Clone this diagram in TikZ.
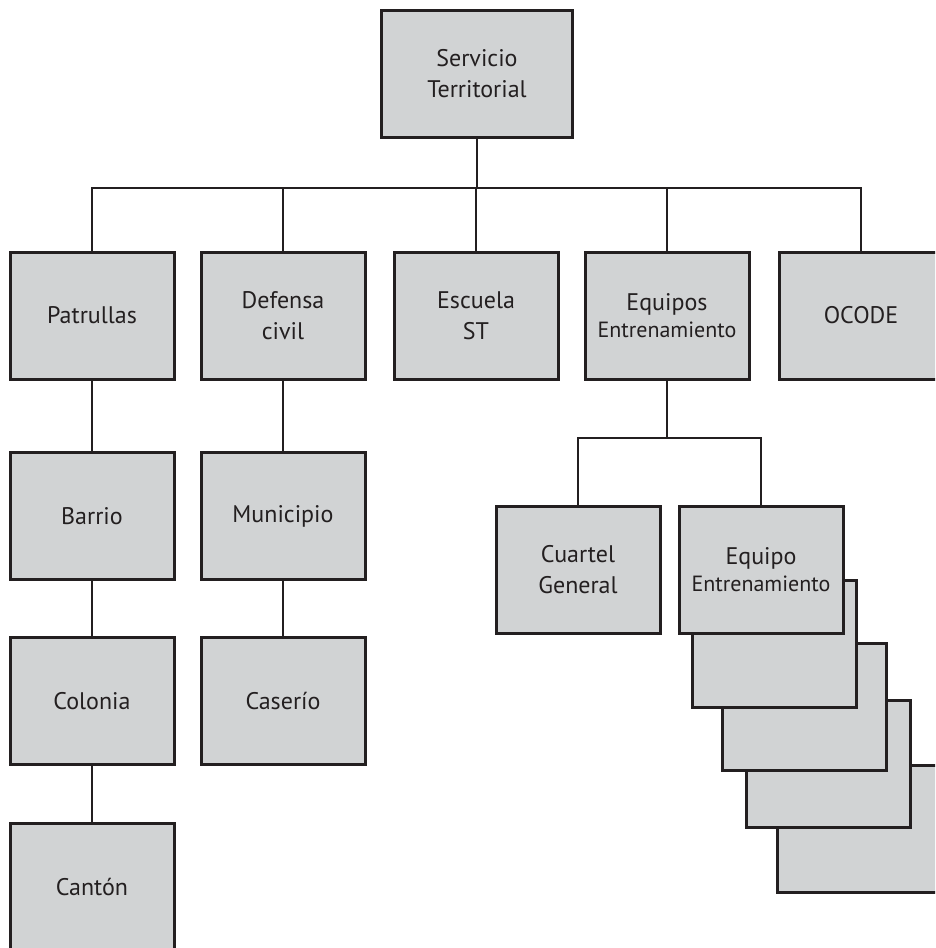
\documentclass[tikz,border=0pt]{standalone}
\usepackage{fontspec}
\setmainfont{PT Sans}
\usetikzlibrary{positioning,calc}
\definecolor{boxgray}{HTML}{D1D3D4}
\definecolor{ink}{HTML}{231F20}
\newcommand\subtxt{\fontsize{22}{27}\selectfont}

\begin{document}
\begin{tikzpicture}[x=1pt,y=-1pt,line width=2.7pt,draw=ink,
  orgbox/.style={draw=ink,line width=3pt,fill=boxgray,text=ink,minimum width=164pt,minimum height=127pt,
    inner sep=0pt,align=center,font=\fontsize{24}{31}\selectfont}]
\useasboundingbox (0,0) rectangle (935,948);
\clip (0,0) rectangle (935,948);
\node[orgbox,minimum width=191pt] (serv) at (477,74){Servicio\\Territorial};
\node[orgbox] (pat) at (92,315.5){Patrullas};
\node[orgbox] (def) at (283,315.5){Defensa\\civil};
\node[orgbox] (esc) at (476,315.5){Escuela\\ST};
\node[orgbox] (equ) at (667,315.5){Equipos\\[-4pt]{\subtxt Entrenamiento}};
\node[orgbox] (oco) at (861,315.5){OCODE};
\node[orgbox] (bar) at (92,516){Barrio};
\node[orgbox] (mun) at (283,516){Municipio};
\node[orgbox] (col) at (92,701){Colonia};
\node[orgbox] (cas) at (283,701){Caser\'io};
\node[orgbox] (can) at (92,886.5){Cant\'on};
\node[orgbox] (cg) at (578,570){Cuartel\\General};
% pile of teams behind the front box
\foreach \i/\px/\py in {4/859/829,3/828.5/764,2/804/706.5,1/774/644}
  \node[orgbox] (stk\i) at (\px,\py){};
\node[orgbox] (et) at (761,570){Equipo\\[-4pt]{\subtxt Entrenamiento}};

\coordinate (bus) at (476,188);
\coordinate (sub) at (667,438);
\foreach \n in {pat,def,esc,equ,oco}
  \draw (serv.south) |- (bus -| \n.north) -- (\n.north);
\foreach \n in {cg,et}
  \draw (equ.south) |- (sub -| \n.north) -- (\n.north);
\draw (pat) -- (bar) -- (col) -- (can);
\draw (def) -- (mun) -- (cas);
\end{tikzpicture}
\end{document}
